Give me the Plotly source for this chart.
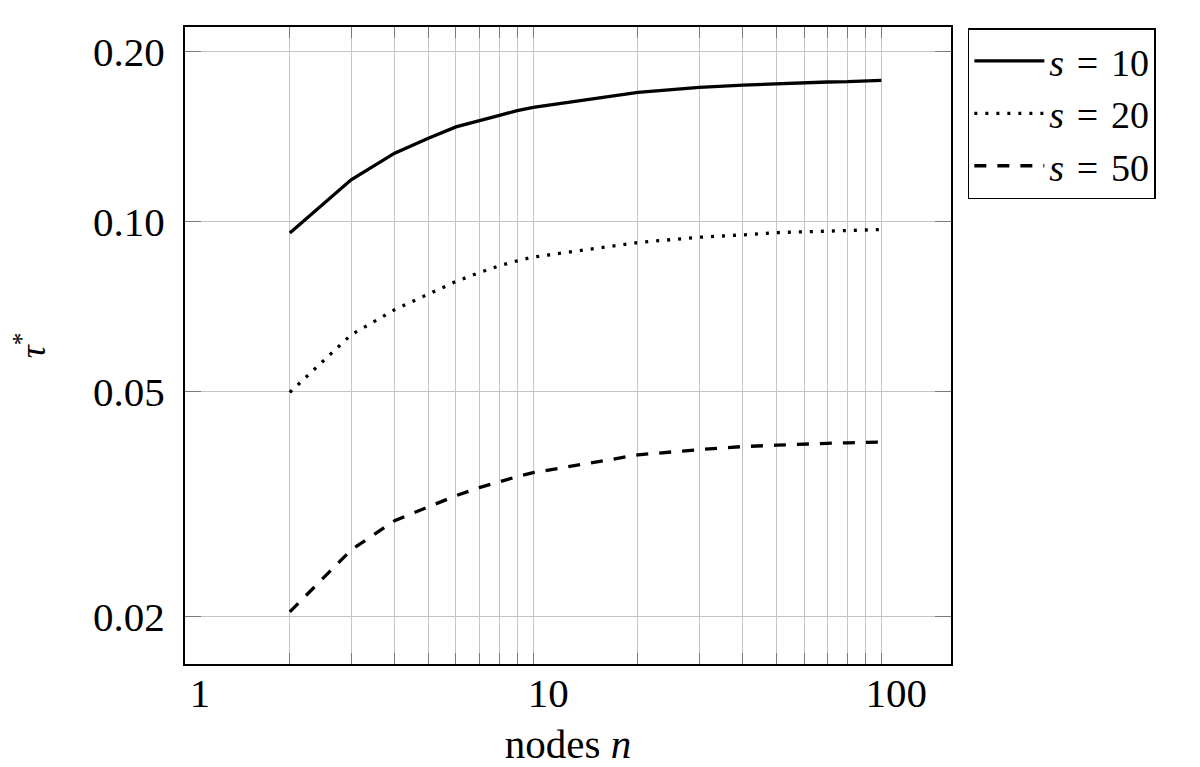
import plotly.graph_objects as go

# values
nodes = [2, 3, 4, 5, 6, 7, 8, 9, 10, 20, 30, 40, 50, 60, 70, 80, 90, 100]
tau_s10 = [0.0955, 0.1187, 0.1323, 0.1406, 0.1472, 0.1512, 0.1543, 0.1573, 0.1594,
           0.1694, 0.1729, 0.1746, 0.1757, 0.1764, 0.1768, 0.1770, 0.1772, 0.1779]
tau_s20 = [0.0499, 0.0631, 0.0699, 0.0745, 0.0784, 0.0813, 0.0836, 0.0853, 0.0866,
           0.0919, 0.0939, 0.0948, 0.0957, 0.0960, 0.0963, 0.0965, 0.0968, 0.0969]
tau_s50 = [0.0204, 0.02625, 0.02958, 0.03132, 0.03275, 0.03385, 0.03468, 0.0354, 0.03597,
           0.03868, 0.03952, 0.04001, 0.04023, 0.04045, 0.04054, 0.04062, 0.04066, 0.04077]

x_tickvals = [1, 2, 3, 4, 5, 6, 7, 8, 9, 10, 20, 30, 40, 50, 60, 70, 80, 90, 100]
x_ticktext = ["1", "", "", "", "", "", "", "", "", "10", "", "", "", "", "", "", "", "", "100"]
y_tickvals = [0.02, 0.05, 0.10, 0.20]
y_ticktext = ["0.02", "0.05", "0.10", "0.20"]

FONT = "Liberation Serif"
SP = "\u2004"  # a bit wider than a normal space, like TeX math spacing around "="

series = [
    (f"<i>s</i>{SP}={SP}10", tau_s10, "solid"),
    (f"<i>s</i>{SP}={SP}20", tau_s20, "3px,8px"),
    (f"<i>s</i>{SP}={SP}50", tau_s50, "12px,11px"),
]

fig = go.Figure()
for name, vals, dash in series:
    fig.add_trace(go.Scatter(
        x=nodes, y=vals, name=name, mode="lines",
        line=dict(color="black", width=3.3, dash=dash)
    ))

axis_common = dict(
    type="log", automargin=False,
    showline=True, linecolor="black", linewidth=2, mirror="ticks",
    showgrid=True, gridcolor="#c4c4c4", gridwidth=1,
    ticks="inside", tickcolor="#7a7a7a", tickwidth=1,
    tickfont=dict(family=FONT, size=41, color="black"),
    zeroline=False,
)

fig.update_xaxes(
    **axis_common,
    range=[0, 2.2],
    tickmode="array", tickvals=x_tickvals, ticktext=x_ticktext,
    ticklen=11, ticklabelshift=15, ticklabelstandoff=-8,
    title=dict(text="nodes <i>n</i>", font=dict(family=FONT, size=41, color="black"), standoff=14),
)
fig.update_yaxes(
    **axis_common,
    range=[-1.7827, -0.6552],
    tickmode="array", tickvals=y_tickvals, ticktext=y_ticktext,
    ticklen=16, ticklabelstandoff=10,
    title=dict(text="<i>τ</i><sup>*</sup>", font=dict(family=FONT, size=36, color="black"), standoff=42),
)

# the page body adds an 8px offset, so the margins are shifted accordingly
fig.update_layout(
    width=1200, height=767,
    margin=dict(l=177, r=257, t=19, b=111),
    plot_bgcolor="white", paper_bgcolor="white",
    font=dict(family=FONT, color="black"),
    legend=dict(
        x=1.022, y=0.998, xanchor="left", yanchor="top",
        bordercolor="black", borderwidth=1.5, bgcolor="white",
        font=dict(family=FONT, size=38, color="black"),
        itemwidth=70, tracegroupgap=0,
    ),
)

fig.write_html("out.html")
